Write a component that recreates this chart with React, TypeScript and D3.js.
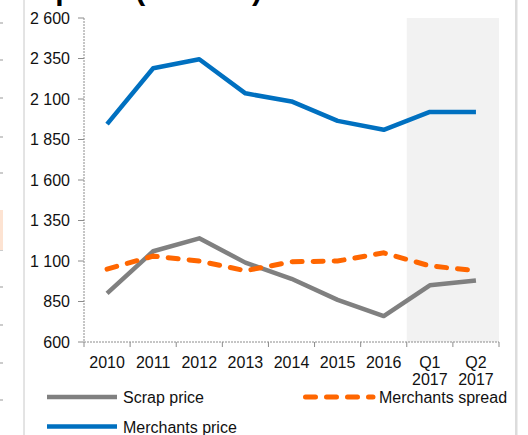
import React, { useEffect, useRef } from "react";
import * as d3 from "d3";

// categories and series
const categories = ["2010", "2011", "2012", "2013", "2014", "2015", "2016", "Q1 2017", "Q2 2017"];
const merchantsPrice = [1945, 2290, 2345, 2135, 2085, 1965, 1910, 2020, 2020];
const scrapPrice = [900, 1160, 1240, 1090, 990, 860, 760, 950, 980];
const merchantsSpread = [1050, 1130, 1100, 1040, 1095, 1100, 1150, 1070, 1040];
const shaded = ["Q1 2017", "Q2 2017"];
const yTicks = [600, 850, 1100, 1350, 1600, 1850, 2100, 2350, 2600];

const W = 528, H = 435;
const FONT = "'Liberation Sans', Arial, sans-serif";

export default function App() {
  const ref = useRef<SVGSVGElement>(null);

  useEffect(() => {
    const svg = d3.select(ref.current);
    svg.selectAll("*").remove();

    const x = d3.scaleBand().domain(categories).range([84, 499]).paddingInner(0).paddingOuter(0);
    const y = d3.scaleLinear().domain([600, 2600]).range([342, 18]);
    const fmt = d3.formatLocale({ decimal: ",", thousands: " ", grouping: [3], currency: ["", ""] }).format(",");
    const cx = (c: string) => (x(c) as number) + x.bandwidth() / 2;

    // bits of neighbouring panels at the edges
    svg.append("line").attr("x1", 24).attr("x2", 24).attr("y1", 0).attr("y2", H)
      .attr("stroke", "#c8c8c8").attr("stroke-width", 1);
    [23, 60, 98, 137, 173, 212, 250, 287, 325, 363, 400].forEach(v => {
      svg.append("line").attr("x1", 0).attr("x2", 3).attr("y1", v).attr("y2", v)
        .attr("stroke", "#999").attr("stroke-width", 1);
    });
    svg.append("rect").attr("x", 0).attr("y", 210).attr("width", 3).attr("height", 40)
      .attr("fill", "#fde3d2");
    svg.append("rect").attr("x", 515).attr("y", 0).attr("width", 2.5).attr("height", H)
      .attr("fill", "#dcdcdc");

    // title, cut off by the top edge as in the source
    svg.append("text").attr("x", 262).attr("y", 0).attr("text-anchor", "end")
      .attr("font-family", FONT).attr("font-weight", "bold").attr("font-size", 30)
      .attr("fill", "#000").text("Merchants price (€/tonne)");

    // shaded forecast area
    const x0 = x(shaded[0]) as number;
    svg.append("rect").attr("x", x0).attr("y", y(2600))
      .attr("width", x.bandwidth() * shaded.length).attr("height", y(600) - y(2600))
      .attr("fill", "#f2f2f2");

    // y axis
    const ax = svg.append("g").attr("font-family", FONT).attr("font-size", 16);
    ax.append("line").attr("x1", 84).attr("x2", 84).attr("y1", y(2600)).attr("y2", y(600))
      .attr("stroke", "#8c8c8c").attr("stroke-dasharray", "2 1");
    yTicks.forEach(v => {
      ax.append("line").attr("x1", 78).attr("x2", 84).attr("y1", y(v)).attr("y2", y(v))
        .attr("stroke", "#8c8c8c");
      ax.append("text").attr("x", 70).attr("y", y(v)).attr("dy", "0.36em")
        .attr("text-anchor", "end").attr("fill", "#111").text(fmt(v));
    });

    // x axis
    ax.append("line").attr("x1", 84).attr("x2", 499).attr("y1", y(600)).attr("y2", y(600))
      .attr("stroke", "#8c8c8c").attr("stroke-dasharray", "2 1");
    categories.concat([""]).forEach((c, i) => {
      const xx = 84 + i * x.bandwidth();
      ax.append("line").attr("x1", xx).attr("x2", xx).attr("y1", y(600)).attr("y2", y(600) + 5)
        .attr("stroke", "#8c8c8c");
    });
    categories.forEach(c => {
      const t = ax.append("text").attr("x", cx(c)).attr("y", 368).attr("text-anchor", "middle")
        .attr("fill", "#111");
      c.split(" ").forEach((part, i) => {
        t.append("tspan").attr("x", cx(c)).attr("dy", i === 0 ? 0 : 17).text(part);
      });
    });

    // series
    const line = (vals: number[]) =>
      d3.line<number>().x((d, i) => cx(categories[i])).y(d => y(d))(vals);

    svg.append("path").attr("d", line(scrapPrice)).attr("fill", "none")
      .attr("stroke", "#808080").attr("stroke-width", 4.5).attr("stroke-linejoin", "round");
    svg.append("path").attr("d", line(merchantsSpread)).attr("fill", "none")
      .attr("stroke", "#ff6600").attr("stroke-width", 5).attr("stroke-linecap", "round")
      .attr("stroke-dasharray", "10 11");
    svg.append("path").attr("d", line(merchantsPrice)).attr("fill", "none")
      .attr("stroke", "#0070c0").attr("stroke-width", 4.5).attr("stroke-linejoin", "round");

    // legend
    const lg = svg.append("g").attr("font-family", FONT).attr("font-size", 16).attr("fill", "#111");
    const items = [
      { name: "Scrap price", color: "#808080", dash: null, x: 47, y: 397 },
      { name: "Merchants spread", color: "#ff6600", dash: "10 11", x: 303, y: 397 },
      { name: "Merchants price", color: "#0070c0", dash: null, x: 47, y: 426.5 },
    ];
    items.forEach(it => {
      const l = lg.append("line").attr("x1", it.x + (it.dash ? 2.5 : 0)).attr("x2", it.x + 70)
        .attr("y1", it.y).attr("y2", it.y).attr("stroke", it.color).attr("stroke-width", it.dash ? 5 : 4.5);
      if (it.dash) l.attr("stroke-dasharray", it.dash).attr("stroke-linecap", "round");
      lg.append("text").attr("x", it.x + 76).attr("y", it.y + 6).text(it.name);
    });
  }, []);

  return (
    <svg ref={ref} width={W} height={H}
      style={{ position: "absolute", left: 0, top: 0, background: "#fff" }} />
  );
}
